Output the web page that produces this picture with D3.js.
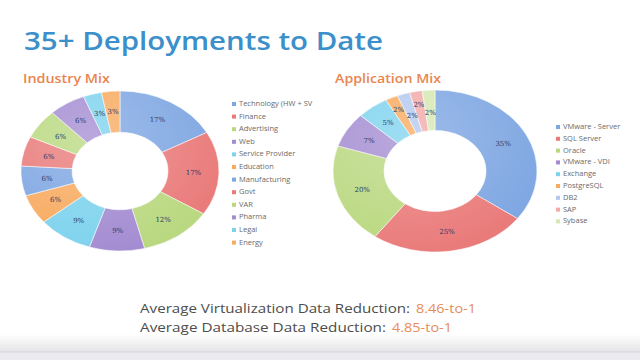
<!DOCTYPE html>
<html>
<head>
<meta charset="utf-8">
<script src="https://cdn.jsdelivr.net/npm/d3@7"></script>
<style>
html,body{margin:0;padding:0;background:#fff;}
svg{display:block;}
</style>
</head>
<body>
<svg id="slide" width="640" height="360"></svg>
<script>
// industry mix
let indNames=["Technology (HW + SV","Finance","Advertising","Web","Service Provider","Education","Manufacturing","Govt","VAR","Pharma","Legal","Energy"];
let indVals=[17,17,12,9,9,6,6,6,6,6,3,3];
// application mix
let appNames=["VMware - Server","SQL Server","Oracle","VMware - VDI","Exchange","PostgreSQL","DB2","SAP","Sybase"];
let appVals=[35,25,20,7,5,2,2,2,2];
// reduction figures
let redLabels=["Average Virtualization Data Reduction:","Average Database Data Reduction:"];
let redValues=["8.46-to-1","4.85-to-1"];

let base=["#7ea6e2","#e97a79","#b9d87f","#a38bd1","#7dd2ee","#f8aa5f"];
let light=["#b3c8ef","#f2aaa9","#d6e8b2"];

let svg=d3.select("#slide");

// bottom band
let defs=svg.append("defs");
let bg=defs.append("linearGradient").attr("id","band").attr("x1",0).attr("y1",0).attr("x2",0).attr("y2",1);
bg.append("stop").attr("offset","0%").attr("stop-color","#ffffff");
bg.append("stop").attr("offset","100%").attr("stop-color","#e4e4e6");
svg.append("rect").attr("x",0).attr("y",334).attr("width",640).attr("height",18).attr("fill","url(#band)");
svg.append("rect").attr("x",0).attr("y",352).attr("width",640).attr("height",8).attr("fill","#eceaf1");
svg.append("line").attr("x1",0).attr("x2",640).attr("y1",352).attr("y2",352).attr("stroke","#d6d4dc").attr("stroke-width",1);

let sh=defs.append("radialGradient").attr("id","shine").attr("cx","35%").attr("cy","30%").attr("r","75%");
sh.append("stop").attr("offset","0%").attr("stop-color","#fff").attr("stop-opacity",0.25);
sh.append("stop").attr("offset","100%").attr("stop-color","#fff").attr("stop-opacity",0);

svg.append("text").text("35+ Deployments to Date").attr("x",24).attr("y",50)
  .attr("textLength",359).attr("lengthAdjust","spacingAndGlyphs")
  .style("font","600 25px 'Open Sans'").style("fill","#3b8fca");

svg.append("text").text("Industry Mix").attr("x",23).attr("y",83)
  .attr("textLength",87).attr("lengthAdjust","spacingAndGlyphs")
  .style("font","600 13px 'Open Sans'").style("fill","#e9854f");
svg.append("text").text("Application Mix").attr("x",335).attr("y",83)
  .attr("textLength",106).attr("lengthAdjust","spacingAndGlyphs")
  .style("font","600 13px 'Open Sans'").style("fill","#e9854f");

function donut(vals,colors,cx,cy,rx,ry,ir){
  let k=ry/rx;
  let pie=d3.pie().sort(null).value(d=>d);
  let arcs=pie(vals);
  let arc=d3.arc().innerRadius(ir).outerRadius(rx);
  let g=svg.append("g").attr("transform",`translate(${cx},${cy}) scale(1,${k})`);
  g.selectAll("path").data(arcs).enter().append("path")
    .attr("d",arc).attr("fill",(d,i)=>colors[i]).attr("stroke","#fff").attr("stroke-width",0.6);
  g.append("circle").attr("r",rx).attr("fill","url(#shine)");
  // thin slices get staggered label radii so the labels do not collide
  let pos=(d,i)=>{
    let r=(ir+rx)/2;
    if(d.data<=2) r=(i%2)?rx*0.84:rx*0.72;
    return d3.arc().innerRadius(r).outerRadius(r).centroid(d);
  };
  svg.selectAll(null).data(arcs).enter().append("text")
    .text(d=>d.data+"%")
    .attr("x",(d,i)=>cx+pos(d,i)[0])
    .attr("y",(d,i)=>cy+pos(d,i)[1]*k+2.5)
    .style("text-anchor","middle")
    .style("font","7px 'DejaVu Serif'").style("fill","#2b3a6b");
}

function legend(names,colors,x,y,step){
  let g=svg.append("g");
  g.selectAll("rect").data(names).enter().append("rect")
    .attr("x",x).attr("y",(d,i)=>y+i*step-4).attr("width",4).attr("height",4)
    .attr("fill",(d,i)=>colors[i]);
  g.selectAll("text").data(names).enter().append("text").text(d=>d)
    .attr("x",x+7).attr("y",(d,i)=>y+i*step)
    .style("font","7.5px 'Open Sans'").style("fill","#6a6a6a");
}

let indCols=indVals.map((d,i)=>base[i%6]);
let appCols=appVals.map((d,i)=>i<6?base[i]:light[i-6]);

donut(indVals,indCols,120,171,99,80,48);
donut(appVals,appCols,435,171,102,81,51);

legend(indNames,indCols,232,106,12.6);
legend(appNames,appCols,556,129,11.8);

let labW=[270,246], valX=[416,392];
redLabels.forEach((t,i)=>{
  svg.append("text").text(t).attr("x",140).attr("y",313+i*19)
    .attr("textLength",labW[i]).attr("lengthAdjust","spacingAndGlyphs")
    .style("font","13.5px 'Open Sans'").style("fill","#4d4d4d");
  svg.append("text").text(redValues[i]).attr("x",valX[i]).attr("y",313+i*19)
    .attr("textLength",60).attr("lengthAdjust","spacingAndGlyphs")
    .style("font","13.5px 'Open Sans'").style("fill","#ea8b58");
});
</script>
</body>
</html>
